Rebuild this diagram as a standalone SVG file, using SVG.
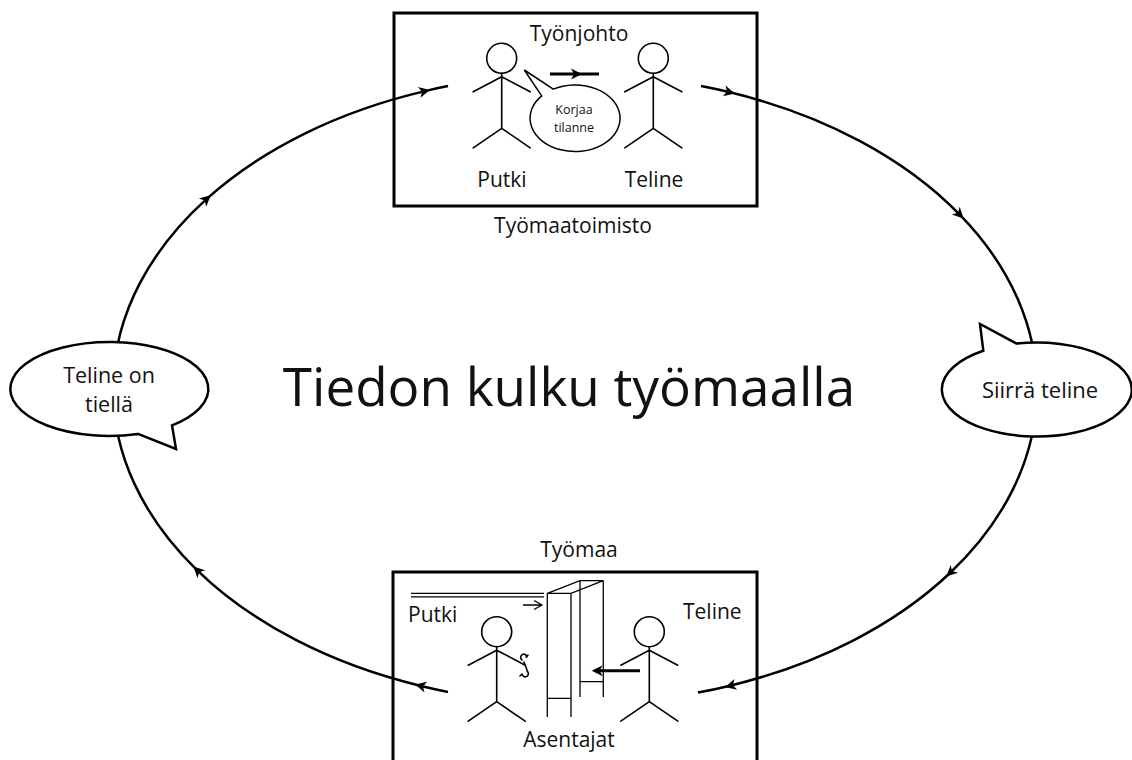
<svg xmlns="http://www.w3.org/2000/svg" width="1132" height="760" viewBox="0 0 1132 760">
  <defs>
    <style>
      text { font-family: "Open Sans", "Liberation Sans", sans-serif; fill: #111; }
      .lbl { font-size: 21px; }
      .mid { text-anchor: middle; }
      .loop { fill: none; stroke: #000; stroke-width: 2.5; marker-mid: url(#barb); }
      .frame { fill: none; stroke: #000; stroke-width: 3; }
      .bubble { fill: #fff; stroke: #000; stroke-width: 2.5; stroke-linejoin: miter; }
      .stick { fill: none; stroke: #000; stroke-width: 1.6; stroke-linecap: round; }
      .thin { fill: none; stroke: #000; stroke-width: 1.3; }
    </style>
    <marker id="barb" markerUnits="userSpaceOnUse" markerWidth="16" markerHeight="16" refX="0" refY="0" viewBox="-8 -8 16 16" orient="auto" overflow="visible">
      <path d="M5,0 L-6,-5.5 L-3,0 L-6,5.5 Z" fill="#000"/>
    </marker>
    <!-- stick figure: head, body, arms, legs; origin at head centre -->
    <g id="person" class="stick">
      <circle cx="0" cy="0" r="15"/>
      <path d="M0,15 V70 M0,18.5 L-28.5,33.5 M0,18.5 L28.5,33.5 M0,70 L-28.5,89.5 M0,70 L28.5,89.5"/>
    </g>
  </defs>

  <rect width="1132" height="760" fill="#fff"/>

  <!-- information loop, clockwise -->
  <g id="connectors">
    <path class="loop" d="M448,691.9 A462,315 0 0,1 420,685.7 A462,315 0 0,1 197,570.1 A462,315 0 0,1 207,198.6 A462,315 0 0,1 425,91.1 A462,315 0 0,1 448,86.1"/>
    <path class="loop" d="M701,86.1 A462,315 0 0,1 730,92.3 A462,315 0 0,1 960,214.9 A462,315 0 0,1 950,573 A462,315 0 0,1 730,685.7 A462,315 0 0,1 698,692.6"/>
  </g>

  <!-- site office -->
  <g id="office">
    <rect class="frame" x="394" y="13" width="363" height="193"/>
    <text class="lbl mid" x="579" y="41">Työnjohto</text>
    <use href="#person" x="501.7" y="58.3"/>
    <use href="#person" x="653.3" y="58.3"/>
    <path d="M541.7,95.9 L524.3,70 L553.3,89.1 A45,33.3 0 1,1 541.7,95.9 Z" fill="#fff" stroke="#000" stroke-width="1.5"/>
    <text class="mid" x="574" y="114" font-size="12.5">Korjaa</text>
    <text class="mid" x="574" y="131.5" font-size="12.5">tilanne</text>
    <path d="M550,74 L577,74 L599,74" fill="none" stroke="#000" stroke-width="3" marker-mid="url(#barb)"/>
    <text class="lbl mid" x="502" y="187">Putki</text>
    <text class="lbl mid" x="654" y="187">Teline</text>
    <text class="lbl mid" x="573" y="233">Työmaatoimisto</text>
  </g>

  <!-- instruction bubble -->
  <g id="move-bubble">
    <path class="bubble" d="M983.3,350.7 L980,324 L1016.7,343.6 A95,47 0 1,1 983.3,350.7 Z"/>
    <text class="mid" x="1040" y="398" font-size="22">Siirrä teline</text>
  </g>

  <!-- report bubble -->
  <g id="report-bubble">
    <path class="bubble" d="M138,433.9 L176,449 L172,425.3 A99,47 0 1,0 138,433.9 Z"/>
    <text class="mid" x="109" y="383" font-size="21.5">Teline on</text>
    <text class="mid" x="109" y="412" font-size="21.5">tiellä</text>
  </g>

  <!-- title -->
  <g id="title">
    <text class="mid" x="569" y="406" font-size="53">Tiedon kulku työmaalla</text>
  </g>

  <!-- work site -->
  <g id="site">
    <text class="lbl mid" x="579" y="557">Työmaa</text>
    <rect class="frame" x="393" y="572" width="364" height="210"/>
    <!-- pipe -->
    <path class="thin" d="M411,593.3 H544 M411,596.8 H544"/>
    <path class="thin" d="M523,605 H542 M534,600.5 L542,605 L534,609.5"/>
    <text class="lbl" x="408" y="621.5">Putki</text>
    <!-- scaffold frame -->
    <path class="thin" d="M547.3,593.3 V717 M571,593.3 V717 M580,580.7 V697 M603.3,580.7 V697 M547.3,593.3 L580,580.7 H603.3 L571,593.3 Z M547.3,698.3 H571 M580,681.7 H603.3"/>
    <!-- workers -->
    <use href="#person" x="496.7" y="631.7"/>
    <use href="#person" x="649.3" y="631.7"/>
    <!-- wrench -->
    <path d="M524,662 L527,670 M522,660 a3.2,3.2 0 1,1 5,-3 M526,657 l2,-2 M527,671 a3.2,3.2 0 1,1 -5,3 M522,674 l-2,2" fill="none" stroke="#000" stroke-width="1.6" stroke-linecap="round"/>
    <path d="M640,670.7 L596.7,670.7" fill="none" stroke="#000" stroke-width="3" marker-end="url(#barb)"/>
    <text class="lbl" x="683" y="619">Teline</text>
    <text class="lbl mid" x="569" y="747">Asentajat</text>
  </g>
</svg>
